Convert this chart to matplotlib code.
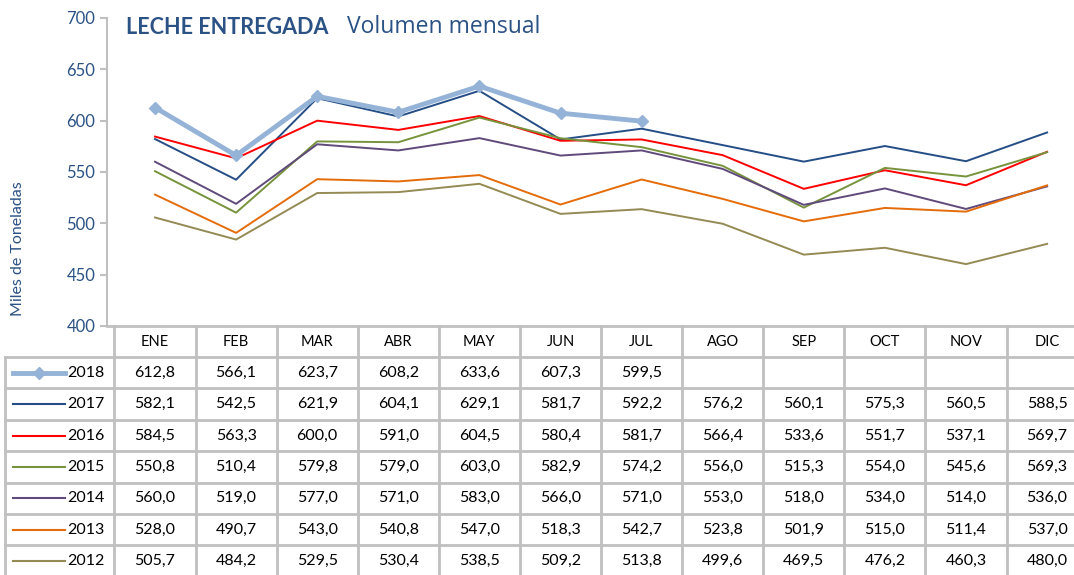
import matplotlib.pyplot as plt
import numpy as np

plt.rcParams['font.family'] = ['Lato', 'DejaVu Sans']

meses = ['ENE', 'FEB', 'MAR', 'ABR', 'MAY', 'JUN', 'JUL', 'AGO', 'SEP', 'OCT', 'NOV', 'DIC']
anios = ['2018', '2017', '2016', '2015', '2014', '2013', '2012']

v2018 = [612.8, 566.1, 623.7, 608.2, 633.6, 607.3, 599.5]
v2017 = [582.1, 542.5, 621.9, 604.1, 629.1, 581.7, 592.2, 576.2, 560.1, 575.3, 560.5, 588.5]
v2016 = [584.5, 563.3, 600.0, 591.0, 604.5, 580.4, 581.7, 566.4, 533.6, 551.7, 537.1, 569.7]
v2015 = [550.8, 510.4, 579.8, 579.0, 603.0, 582.9, 574.2, 556.0, 515.3, 554.0, 545.6, 569.3]
v2014 = [560.0, 519.0, 577.0, 571.0, 583.0, 566.0, 571.0, 553.0, 518.0, 534.0, 514.0, 536.0]
v2013 = [528.0, 490.7, 543.0, 540.8, 547.0, 518.3, 542.7, 523.8, 501.9, 515.0, 511.4, 537.0]
v2012 = [505.7, 484.2, 529.5, 530.4, 538.5, 509.2, 513.8, 499.6, 469.5, 476.2, 460.3, 480.0]

series = [v2018, v2017, v2016, v2015, v2014, v2013, v2012]
colores = ['#95B3D7', '#254E86', '#FF0000', '#77933C', '#604A7B', '#E46C0A', '#948A54']
azul = '#2B5285'
gris = '#C0C0C0'

W, H = 1074, 575
fig = plt.figure(figsize=(W / 100, H / 100), dpi=100)

# geometria en pixeles
x0_px, paso = 155.0, 81.1
ax_left, ax_right = 107, 1092
ax_top, ax_bot = 18, 326

def cat_px(i):
    return x0_px + paso * i

ax = fig.add_axes([ax_left / W, 1 - ax_bot / H, (ax_right - ax_left) / W, (ax_bot - ax_top) / H])
xmin = -(x0_px - ax_left) / paso
xmax = xmin + (ax_right - ax_left) / paso
ax.set_xlim(xmin, xmax)
ax.set_ylim(400, 700)

x = np.arange(12)
for nombre, vals, col in zip(anios, series, colores):
    n = len(vals)
    if nombre == '2018':
        ax.plot(x[:n], vals, color=col, lw=3.5, marker='D', ms=6, zorder=10)
    else:
        ax.plot(x[:n], vals, color=col, lw=1.4)

ax.set_yticks(np.arange(400, 701, 50))
ax.tick_params(axis='y', colors=gris, labelcolor=azul, labelsize=12, length=5, width=1.5)
ax.set_xticks([])
for s in ['top', 'right', 'bottom']:
    ax.spines[s].set_visible(False)
ax.spines['left'].set_color(gris)
ax.spines['left'].set_linewidth(1.5)

fig.text(126 / W, 1 - 28 / H, 'LECHE ENTREGADA', fontsize=15.5, fontweight='bold', color=azul, va='center')
fig.text(347 / W, 1 - 27 / H, 'Volumen mensual', fontsize=16.5, family=['Open Sans', 'DejaVu Sans'],
         color=azul, va='center')
fig.text(18 / W, 1 - 249 / H, 'Miles de Toneladas', fontsize=11.5, color=azul, rotation=90, va='center', ha='center')

# tabla de datos
tab = fig.add_axes([0, 0, 1, 1])
tab.set_xlim(0, W)
tab.set_ylim(H, 0)
tab.axis('off')

fila_top = 326
fila_h = [31] + [31.4] * 7
bordes_y = np.concatenate([[fila_top], fila_top + np.cumsum(fila_h)])
bordes_x = [cat_px(i - 0.5) for i in range(13)]

tab.plot([ax_left, W + 20], [bordes_y[0]] * 2, color=gris, lw=2)
for yb in bordes_y[1:]:
    tab.plot([5, W + 20], [yb, yb], color=gris, lw=2)
tab.plot([5, 5], [bordes_y[1], H + 5], color=gris, lw=2)
for xb in bordes_x:
    tab.plot([xb, xb], [bordes_y[0], H + 5], color=gris, lw=2)

for i, m in enumerate(meses):
    tab.text(cat_px(i), (bordes_y[0] + bordes_y[1]) / 2, m, ha='center', va='center', fontsize=10.5)

for r, (nombre, vals, col) in enumerate(zip(anios, series, colores)):
    yc = (bordes_y[r + 1] + bordes_y[r + 2]) / 2
    if nombre == '2018':
        tab.plot([13, 65], [yc, yc], color=col, lw=3.5)
        tab.plot([39], [yc], color=col, marker='D', ms=6)
    else:
        tab.plot([13, 65], [yc, yc], color=col, lw=1.5)
    tab.text(67, yc, nombre, ha='left', va='center', fontsize=11.5)
    for i, v in enumerate(vals):
        tab.text(cat_px(i), yc, f'{v:.1f}'.replace('.', ','), ha='center', va='center', fontsize=11.5)

fig.savefig('out.png', dpi=100)
